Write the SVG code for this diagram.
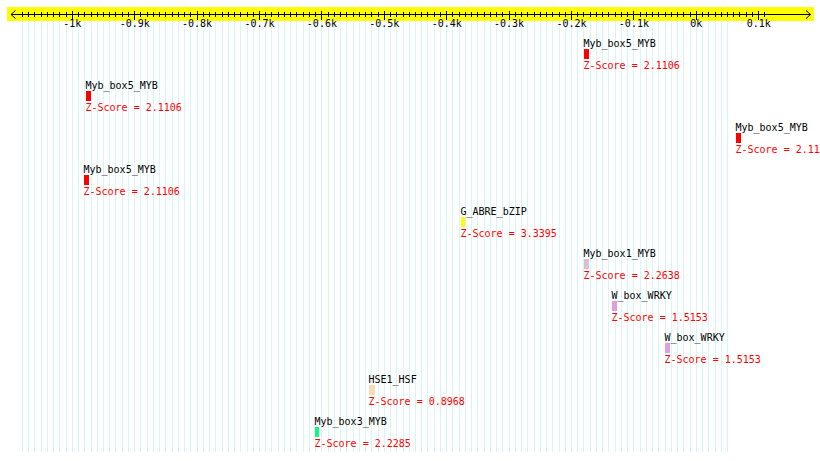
<svg xmlns="http://www.w3.org/2000/svg" width="820" height="461" viewBox="0 0 820 461">
<style>
text{font-family:"DejaVu Sans Mono","Liberation Mono",monospace;font-size:10px}
.lbl{fill:#000}
.z{fill:#ff0000}
.ax{fill:#000;text-anchor:middle}
.grid{stroke:#d2f6fa;stroke-width:1;fill:none;shape-rendering:crispEdges}
.tk{stroke:#000;stroke-width:1;fill:none;shape-rendering:crispEdges}
.box{shape-rendering:crispEdges}
</style>
<rect x="0" y="0" width="820" height="461" fill="#ffffff"/>
<g id="grid">
<path class="grid" d="M22.38 21v431m6.24-431v431m6.24-431v431m6.24-431v431m6.24-431v431m6.24-431v431m6.24-431v431m6.24-431v431m6.24-431v431m6.24-431v431m6.24-431v431m6.24-431v431m6.24-431v431m6.24-431v431m6.24-431v431m6.24-431v431m6.24-431v431m6.24-431v431m6.24-431v431m6.24-431v431m6.24-431v431m6.24-431v431m6.24-431v431m6.24-431v431m6.24-431v431m6.24-431v431m6.24-431v431m6.24-431v431m6.24-431v431m6.24-431v431m6.24-431v431m6.24-431v431m6.24-431v431m6.24-431v431m6.24-431v431m6.24-431v431m6.24-431v431m6.24-431v431m6.24-431v431m6.24-431v431m6.24-431v431m6.24-431v431m6.24-431v431m6.24-431v431m6.24-431v431m6.24-431v431m6.24-431v431m6.24-431v431m6.24-431v431m6.24-431v431m6.24-431v431m6.24-431v431m6.24-431v431m6.24-431v431m6.24-431v431m6.24-431v431m6.24-431v431m6.24-431v431m6.24-431v431m6.24-431v431m6.24-431v431m6.24-431v431m6.24-431v431m6.24-431v431m6.24-431v431m6.24-431v431m6.24-431v431m6.24-431v431m6.24-431v431m6.24-431v431m6.24-431v431m6.24-431v431m6.24-431v431m6.24-431v431m6.24-431v431m6.24-431v431m6.24-431v431m6.24-431v431m6.24-431v431m6.24-431v431m6.24-431v431m6.24-431v431m6.24-431v431m6.24-431v431m6.24-431v431m6.24-431v431m6.24-431v431m6.24-431v431m6.24-431v431m6.24-431v431m6.24-431v431m6.24-431v431m6.24-431v431m6.24-431v431m6.24-431v431m6.24-431v431m6.24-431v431m6.24-431v431m6.24-431v431m6.24-431v431m6.24-431v431m6.24-431v431m6.24-431v431m6.24-431v431m6.24-431v431m6.24-431v431m6.24-431v431m6.24-431v431m6.24-431v431m6.24-431v431m6.24-431v431m6.24-431v431m6.24-431v431m6.24-431v431"/>
</g>
<g id="axis">
<rect x="7" y="7" width="807" height="14" fill="#ffff00"/>
<path class="tk" d="M10.5 14.5H810.5"/>
<path d="M15.5 10.5L11 14.5L15.5 18.5M806 10.5L810.5 14.5L806 18.5" stroke="#000" stroke-width="1" fill="none"/>
<path class="tk" d="M22.38 12v5m6.24-5v5m6.24-5v5m6.24-5v5m6.24-5v5m6.24-5v5m6.24-5v5m6.24-5v5m6.24-5v5m6.24-5v5m6.24-5v5m6.24-5v5m6.24-5v5m6.24-5v5m6.24-5v5m6.24-5v5m6.24-5v5m6.24-5v5m6.24-5v5m6.24-5v5m6.24-5v5m6.24-5v5m6.24-5v5m6.24-5v5m6.24-5v5m6.24-5v5m6.24-5v5m6.24-5v5m6.24-5v5m6.24-5v5m6.24-5v5m6.24-5v5m6.24-5v5m6.24-5v5m6.24-5v5m6.24-5v5m6.24-5v5m6.24-5v5m6.24-5v5m6.24-5v5m6.24-5v5m6.24-5v5m6.24-5v5m6.24-5v5m6.24-5v5m6.24-5v5m6.24-5v5m6.24-5v5m6.24-5v5m6.24-5v5m6.24-5v5m6.24-5v5m6.24-5v5m6.24-5v5m6.24-5v5m6.24-5v5m6.24-5v5m6.24-5v5m6.24-5v5m6.24-5v5m6.24-5v5m6.24-5v5m6.24-5v5m6.24-5v5m6.24-5v5m6.24-5v5m6.24-5v5m6.24-5v5m6.24-5v5m6.24-5v5m6.24-5v5m6.24-5v5m6.24-5v5m6.24-5v5m6.24-5v5m6.24-5v5m6.24-5v5m6.24-5v5m6.24-5v5m6.24-5v5m6.24-5v5m6.24-5v5m6.24-5v5m6.24-5v5m6.24-5v5m6.24-5v5m6.24-5v5m6.24-5v5m6.24-5v5m6.24-5v5m6.24-5v5m6.24-5v5m6.24-5v5m6.24-5v5m6.24-5v5m6.24-5v5m6.24-5v5m6.24-5v5m6.24-5v5m6.24-5v5m6.24-5v5m6.24-5v5m6.24-5v5m6.24-5v5m6.24-5v5m6.24-5v5m6.24-5v5m6.24-5v5m6.24-5v5m6.24-5v5m6.24-5v5m6.24-5v5m6.24-5v5m6.24-5v5m6.24-5v5m6.24-5v5m6.24-5v5m6.24-5v5m6.24-5v5m6.24-5v5"/>
<path class="tk" d="M72.3 10.5v9m62.4-9v9m62.4-9v9m62.4-9v9m62.4-9v9m62.4-9v9m62.4-9v9m62.4-9v9m62.4-9v9m62.4-9v9m62.4-9v9m62.4-9v9"/>
<text class="ax" x="72.3" y="27">-1k</text>
<text class="ax" x="134.7" y="27">-0.9k</text>
<text class="ax" x="197.1" y="27">-0.8k</text>
<text class="ax" x="259.5" y="27">-0.7k</text>
<text class="ax" x="321.9" y="27">-0.6k</text>
<text class="ax" x="384.3" y="27">-0.5k</text>
<text class="ax" x="446.7" y="27">-0.4k</text>
<text class="ax" x="509.1" y="27">-0.3k</text>
<text class="ax" x="571.5" y="27">-0.2k</text>
<text class="ax" x="633.9" y="27">-0.1k</text>
<text class="ax" x="696.3" y="27">0k</text>
<text class="ax" x="758.7" y="27">0.1k</text>
</g>
<g id="n1"><text class="lbl" x="583.5" y="47">Myb_box5_MYB</text><rect class="box" x="584" y="49" width="5" height="10" fill="#ff0000"/><text class="z" x="583.5" y="69">Z-Score = 2.1106</text></g>
<g id="n2"><text class="lbl" x="85.5" y="89">Myb_box5_MYB</text><rect class="box" x="86" y="91" width="5" height="10" fill="#ff0000"/><text class="z" x="85.5" y="111">Z-Score = 2.1106</text></g>
<g id="n3"><text class="lbl" x="735.5" y="131">Myb_box5_MYB</text><rect class="box" x="736" y="133" width="5" height="10" fill="#ff0000"/><text class="z" x="735.5" y="153">Z-Score = 2.11</text></g>
<g id="n4"><text class="lbl" x="83.5" y="173">Myb_box5_MYB</text><rect class="box" x="84" y="175" width="5" height="10" fill="#ff0000"/><text class="z" x="83.5" y="195">Z-Score = 2.1106</text></g>
<g id="n5"><text class="lbl" x="460.5" y="215">G_ABRE_bZIP</text><rect class="box" x="461" y="217" width="4" height="10" fill="#ffff00"/><text class="z" x="460.5" y="237">Z-Score = 3.3395</text></g>
<g id="n6"><text class="lbl" x="583.5" y="257">Myb_box1_MYB</text><rect class="box" x="584" y="259" width="5" height="10" fill="#d8bfd8"/><text class="z" x="583.5" y="279">Z-Score = 2.2638</text></g>
<g id="n7"><text class="lbl" x="611.5" y="299">W_box_WRKY</text><rect class="box" x="612" y="301" width="5" height="10" fill="#dda0dd"/><text class="z" x="611.5" y="321">Z-Score = 1.5153</text></g>
<g id="n8"><text class="lbl" x="664.5" y="341">W_box_WRKY</text><rect class="box" x="665" y="343" width="5" height="10" fill="#dda0dd"/><text class="z" x="664.5" y="363">Z-Score = 1.5153</text></g>
<g id="n9"><text class="lbl" x="368.5" y="383">HSE1_HSF</text><rect class="box" x="369" y="385" width="6" height="10" fill="#f5deb3"/><text class="z" x="368.5" y="405">Z-Score = 0.8968</text></g>
<g id="n10"><text class="lbl" x="314.5" y="425">Myb_box3_MYB</text><rect class="box" x="315" y="427" width="4" height="10" fill="#00ff7f"/><text class="z" x="314.5" y="447">Z-Score = 2.2285</text></g>
</svg>
